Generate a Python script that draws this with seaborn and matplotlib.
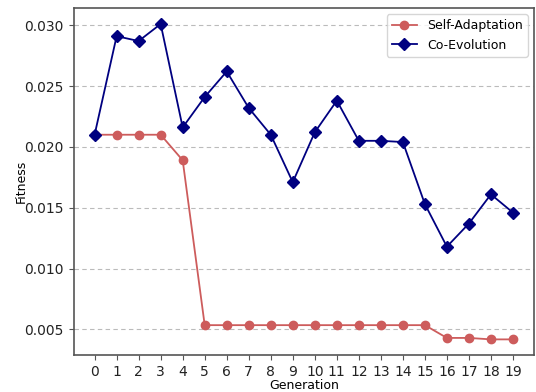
import matplotlib
matplotlib.use("Agg")
import matplotlib.pyplot as plt
import seaborn as sns
import pandas as pd

generations = list(range(20))
self_adaptation = [0.0210, 0.0210, 0.0210, 0.0210, 0.0189, 0.00535, 0.00535, 0.00535,
                   0.00535, 0.00535, 0.00535, 0.00535, 0.00535, 0.00535, 0.00535, 0.00535,
                   0.0043, 0.0043, 0.00418, 0.00418]
co_evolution = [0.0210, 0.0291, 0.0287, 0.0301, 0.0216, 0.0241, 0.0262, 0.0232,
                0.0210, 0.0171, 0.0212, 0.0238, 0.0205, 0.0205, 0.0204, 0.0153,
                0.0118, 0.0137, 0.0161, 0.0146]

df = pd.DataFrame({"Generation": generations,
                   "Self-Adaptation": self_adaptation,
                   "Co-Evolution": co_evolution})

plt.rcParams["font.family"] = ["DejaVu Sans"]
fig, ax = plt.subplots(figsize=(5.36, 3.92), dpi=100)

sns.lineplot(data=df, x="Generation", y="Self-Adaptation", ax=ax, color="indianred",
             marker="o", markersize=6, markeredgewidth=1, markeredgecolor="indianred",
             linewidth=1.3, label="Self-Adaptation")
sns.lineplot(data=df, x="Generation", y="Co-Evolution", ax=ax, color="navy",
             marker="D", markersize=6, markeredgewidth=1, markeredgecolor="navy",
             linewidth=1.3, label="Co-Evolution")

ax.set_xticks(generations)
ax.set_xlabel("Generation", fontsize=9, labelpad=0)
ax.set_ylabel("Fitness", fontsize=9, labelpad=-2)
ax.tick_params(labelsize=10, colors="#222222")
ax.tick_params(axis="both", color="#555555")
ax.yaxis.grid(True, linestyle=(0, (4, 3)), color="#bbbbbb", linewidth=0.8)
ax.set_axisbelow(True)
for s in ax.spines.values():
    s.set_color("#555555")
    s.set_linewidth(1.2)
ax.legend(loc="upper right", fontsize=9)

fig.subplots_adjust(left=0.1375, right=0.996, top=0.979, bottom=0.094)
fig.savefig("out.png", dpi=100)
